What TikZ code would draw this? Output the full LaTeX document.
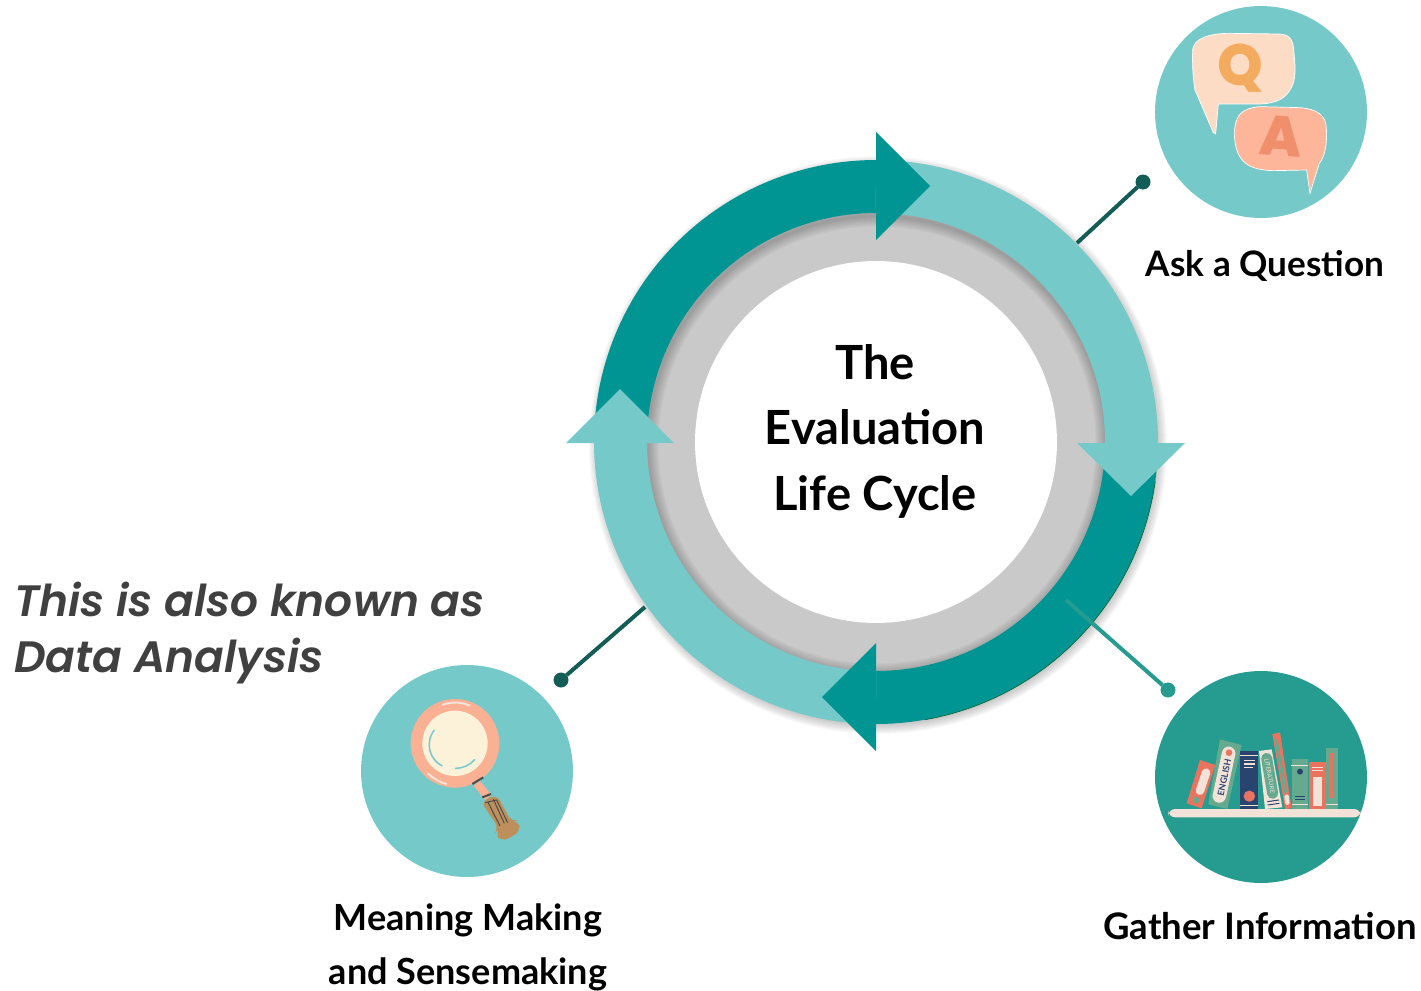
\documentclass[tikz,border=0pt]{standalone}
\usepackage{fontspec}
\setmainfont{Lato}
\newfontfamily\gothicfont{Poppins SemiBold}[ItalicFont={Poppins SemiBold Italic}]
\newfontfamily\stampfont{Poppins ExtraBold}
\usepackage{tikz}
\definecolor{ringdark}{HTML}{009592}
\definecolor{ringlight}{HTML}{76C9C9}
\definecolor{ringgrey}{HTML}{C9C9C9}
\definecolor{gathergreen}{HTML}{259C8F}
\definecolor{dotdark}{HTML}{145C56}
\definecolor{peach}{HTML}{FAB093}
\definecolor{paper}{HTML}{F3E2D8}
\definecolor{bookred}{HTML}{EA7360}
\definecolor{bookgreen}{HTML}{65A98F}
\definecolor{booknavy}{HTML}{2A4470}
\definecolor{grip}{HTML}{BD8F5B}
\definecolor{lens}{HTML}{FCF2DA}
\definecolor{qpaper}{HTML}{FDDCC6}
\definecolor{qorange}{HTML}{F2AB5F}
\definecolor{aorange}{HTML}{F08F6C}
\definecolor{abubble}{HTML}{FDB69A}
\tikzset{
    ringbody/.style={line width=1.06cm},
    bubble/.style={circle, inner sep=0pt, outer sep=0pt, minimum size=4.24cm},
    enddot/.style={circle, inner sep=0pt, outer sep=0pt, minimum size=0.3cm},
    stick/.style={line width=0.08cm},
    steplabel/.style={font=\bfseries\fontsize{20.5}{30.7}\selectfont, align=center, text=black},
    icon/.style={x=0.00667cm, y=0.00667cm},
}
\begin{document}
\begin{tikzpicture}[x=0.02cm, y=0.02cm]
    \useasboundingbox (0,0) rectangle (1421,-991);

    % Soft shadow
    \foreach \i in {1,...,10} {
        \fill[black, opacity=0.025] (878,-445) circle (279+\i);
    }

    % Grey ring
    \fill[ringgrey] (876,-442) circle (232);
    \foreach \i in {1,...,7} {
        \draw[black, opacity=0.03, line width=\i*0.06cm] (877,-445) circle (229);
    }
    \node (disc) at (876,-442) [circle, fill=white, inner sep=0pt, minimum size=7.24cm] {};

    % Ring
    \begin{scope}[shift={(876,-442)}]
        \draw[ringbody, ringdark] (180:255.5) arc (180:89.5:255.5);
        \draw[ringbody, ringdark] (0:255.5) arc (0:-90.5:255.5);
        \draw[ringdark!60!green!50!black, line width=0.012cm] (-8:282) arc (-8:-80:282);
        \draw[ringbody, ringlight] (90:255.5) arc (90:-0.5:255.5);
        \draw[ringbody, ringlight] (-90:255.5) arc (-90:-180.5:255.5);
        \fill[ringlight] (201,-1) -- (309,-1) -- (255,-54) -- cycle;
        \fill[ringlight] (-310,-1) -- (-202,-1) -- (-256,53) -- cycle;
        \fill[ringdark] (0,310) -- (0,202) -- (54,256) -- cycle;
        \fill[ringdark] (0,-201) -- (0,-309) -- (-54,-255) -- cycle;
    \end{scope}

    \node (title) at (875,-431) [font=\bfseries\fontsize{26.8}{37.3}\selectfont, align=center, text=black] {The\\Evaluation\\Life Cycle};

    % Circles
    \node (ask) at (1261,-112) [bubble, fill=ringlight] {};
    \node (gather) at (1261,-777) [bubble, fill=gathergreen] {};
    \node (meaning) at (467,-771) [bubble, fill=ringlight] {};

    % Connectors
    \coordinate (askfoot) at (1077,-243);
    \node (askdot) at (1143,-182) [enddot, fill=dotdark] {};
    \draw[stick, dotdark] (askfoot) -- (askdot);

    \coordinate (gatherfoot) at (1066,-600);
    \node (gatherdot) at (1168,-690) [enddot, fill=gathergreen] {};
    \draw[stick, gathergreen] (gatherfoot) -- (gatherdot);

    \coordinate (meaningfoot) at (645,-607);
    \node (meaningdot) at (561,-680) [enddot, fill=dotdark] {};
    \draw[stick, dotdark] (meaningfoot) -- (meaningdot);

    % Labels
    \node (asklabel) at (1265,-266) [steplabel, font=\bfseries\fontsize{20}{30.7}\selectfont] {Ask a Question};
    \node (gatherlabel) at (1260,-926) [steplabel, font=\bfseries\fontsize{20.8}{30.7}\selectfont] {Gather Information};
    \node (meaninglabel) at (468,-947) [steplabel] {Meaning Making\\and Sensemaking};
    \node (aside) at (14,-633) [anchor=west, inner sep=0pt, align=left, text=black!75, font=\gothicfont\itshape\fontsize{25}{32}\selectfont] {This is also known as\\Data Analysis};

    % Q and A
    \begin{scope}[shift={(1150,0)}, icon]
        \filldraw[draw=white, fill=qpaper] (128,-150) .. controls (130,-115) and (180,-100) .. (240,-100) -- (390,-102)
            .. controls (425,-105) and (430,-125) .. (432,-160) .. controls (436,-200) and (440,-240) .. (420,-270)
            .. controls (405,-295) and (380,-310) .. (330,-312) -- (205,-312) -- (197,-402) -- (190,-398) -- (135,-270)
            .. controls (128,-230) and (127,-190) .. (128,-150) -- cycle;
        \node (qmark) at (270,-205) [text=qorange, font=\stampfont\fontsize{33}{33}\selectfont] {Q};
        \filldraw[draw=white, fill=abubble] (253,-400) .. controls (255,-350) and (270,-325) .. (330,-320) -- (450,-323)
            .. controls (500,-327) and (528,-345) .. (529,-385) .. controls (532,-430) and (525,-470) .. (508,-490)
            -- (480,-580) -- (470,-510) -- (370,-512) .. controls (300,-510) and (255,-490) .. (253,-400) -- cycle;
        \node (amark) at (392,-410) [text=aorange, rotate=-4, font=\stampfont\fontsize{32}{32}\selectfont] {A};
    \end{scope}

    % Books
    \begin{scope}[shift={(1150,-670)}, icon]
        \fill[bookred] (150,-270) -- (196,-285) -- (155,-415) -- (110,-400) -- cycle;
        \draw[paper, line width=0.17cm, line cap=round] (168,-308) -- (150,-362);
        \fill[bookgreen] (138,-390) circle (10);
        \fill[bookgreen] (210,-208) -- (275,-225) -- (232,-417) -- (175,-403) -- cycle;
        \draw[paper, line width=0.27cm, line cap=round] (236,-250) -- (208,-378);
        \fill[bookred] (237,-248) circle (10);
        \node (english) at (223,-322) [rotate=78, text=booknavy, font=\bfseries\fontsize{5}{5}\selectfont] {ENGLISH};
        \fill[booknavy] (271,-242) rectangle (325,-417);
        \draw[paper, line width=0.02cm] (271,-256) -- (325,-256) (271,-405) -- (325,-405);
        \draw[paper, line width=0.025cm] (282,-272) -- (315,-272) (282,-282) -- (315,-282) (282,-292) -- (310,-292);
        \fill[bookred, rounded corners=3pt] (281,-362) rectangle (315,-395);
        \fill[paper] (327,-243) -- (365,-238) -- (397,-412) -- (345,-417) -- cycle;
        \draw[bookgreen, line width=0.22cm, line cap=round] (350,-265) -- (368,-370);
        \node (literature) at (359,-318) [rotate=-80, text=paper, font=\fontsize{3.5}{4}\selectfont] {LITERATURE};
        \draw[booknavy, line width=0.02cm] (352,-395) -- (387,-390) (353,-405) -- (388,-400);
        \fill[bookred] (367,-192) -- (390,-187) -- (425,-415) -- (405,-417) -- cycle;
        \draw[bookgreen, line width=0.06cm] (378,-208) -- (407,-368);
        \draw[paper, line width=0.09cm, line cap=round] (410,-380) -- (412,-398);
        \fill[bookgreen] (426,-268) rectangle (475,-417);
        \draw[paper, line width=0.02cm] (424,-285) -- (475,-285) (426,-404) -- (475,-404);
        \fill[booknavy] (450,-305) circle (9);
        \draw[booknavy, line width=0.02cm] (436,-378) -- (466,-378) (436,-387) -- (466,-387);
        \fill[bookred] (476,-277) rectangle (530,-417);
        \fill[paper] (490,-320) rectangle (516,-407);
        \draw[paper, line width=0.02cm] (485,-292) -- (518,-292) (485,-302) -- (518,-302);
        \fill[bookgreen] (529,-235) rectangle (563,-417);
        \fill[bookred] (541,-250) rectangle (549,-385);
        \draw[paper, line width=0.02cm] (529,-402) -- (563,-402);
        \fill[paper, rounded corners=4pt] (55,-417) rectangle (633,-442);
    \end{scope}

    % Magnifying glass
    \begin{scope}[shift={(355,-660)}, icon]
        \draw[peach, line width=0.16cm] (365,-370) -- (400,-412);
        \fill[peach] (300,-250) circle (133);
        \fill[lens] (300,-250) circle (98);
        \draw[ringlight, line width=0.03cm] (238,-210) .. controls (208,-250) and (225,-300) .. (262,-318);
        \draw[ringlight, line width=0.03cm] (300,-325) .. controls (325,-325) and (345,-315) .. (360,-298);
        \draw[paper, line width=0.04cm] (262,-135) .. controls (285,-125) and (320,-125) .. (345,-137);
        \draw[paper, line width=0.04cm] (218,-340) .. controls (235,-355) and (255,-368) .. (275,-372);
        \draw[black!70, line width=0.04cm] (352,-372) -- (385,-352) (382,-412) -- (408,-402);
        \fill[grip, rounded corners=4pt] (378,-425) -- (425,-403) -- (470,-487) -- (490,-480) -- (497,-515) -- (440,-546) -- (420,-520) -- (432,-505) -- cycle;
        \draw[black!70, line width=0.02cm] (390,-428) -- (425,-420) -- (458,-488) (398,-425) -- (435,-498) (415,-418) -- (448,-490);
    \end{scope}
\end{tikzpicture}
\end{document}
